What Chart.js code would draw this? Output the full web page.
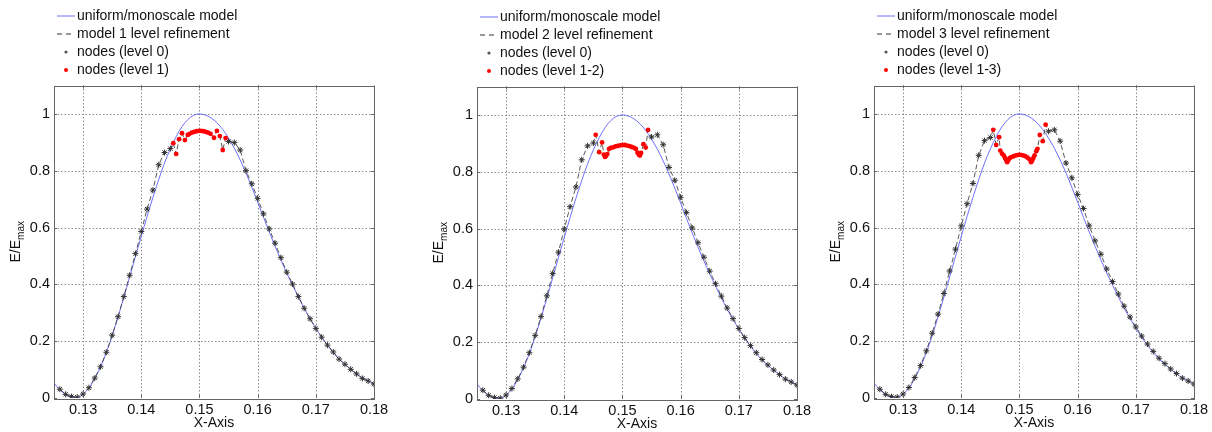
<!DOCTYPE html>
<html>
<head>
<meta charset="utf-8">
<script src="https://cdn.jsdelivr.net/npm/chart.js@4/dist/chart.umd.min.js"></script>
<style>
body{margin:0;background:#fff;width:1212px;height:432px;overflow:hidden;position:relative}
.panel{position:absolute;top:0;width:398px;height:432px}
</style>
</head>
<body>
<div class="panel" style="left:0px"><canvas id="c1"></canvas></div>
<div class="panel" style="left:423px;top:1px"><canvas id="c2"></canvas></div>
<div class="panel" style="left:820px"><canvas id="c3"></canvas></div>
<script>
// ticks
const xTicks = [0.13, 0.14, 0.15, 0.16, 0.17, 0.18];
const yTicks = [0, 0.2, 0.4, 0.6, 0.8, 1];

// uniform / monoscale model (same in all three panels)
const uniformX = [0.125,0.1255,0.126,0.1265,0.127,0.1275,0.128,0.1285,0.129,0.1295,0.130,
  0.131,0.132,0.133,0.134,0.135,0.136,0.137,0.138,0.139,0.140,0.141,0.142,0.143,0.144,0.145,
  0.146,0.147,0.148,0.149,0.150,0.151,0.152,0.153,0.154,0.155,0.156,0.157,0.158,0.159,0.160,
  0.161,0.162,0.163,0.164,0.165,0.166,0.167,0.168,0.169,0.170,0.171,0.172,0.173,0.174,0.175,
  0.176,0.177,0.178,0.179,0.180];
const uniformY = [0.054,0.040,0.029,0.020,0.012,0.006,0.003,0.001,0.002,0.006,0.013,
  0.035,0.068,0.110,0.160,0.220,0.285,0.354,0.426,0.498,0.569,0.639,0.706,0.769,0.827,0.877,
  0.920,0.955,0.980,0.995,1.000,0.996,0.986,0.969,0.945,0.915,0.879,0.838,0.792,0.742,0.690,
  0.636,0.584,0.534,0.486,0.440,0.397,0.356,0.316,0.280,0.246,0.214,0.186,0.160,0.137,0.118,
  0.101,0.085,0.071,0.060,0.050];

// level 0 nodes
const level0X = [0.126,0.127,0.128,0.129,0.130,0.131,0.132,0.133,0.134,0.135,0.136,0.137,0.138,
  0.139,0.140,0.141,0.142,0.143,0.144,0.145,
  0.155,0.156,0.157,0.158,0.159,0.160,0.161,0.162,0.163,0.164,0.165,0.166,0.167,0.168,0.169,
  0.170,0.171,0.172,0.173,0.174,0.175,0.176,0.177,0.178,0.179,0.180];
const level0Y1 = [0.031,0.013,0.005,0.003,0.014,0.036,0.070,0.110,0.161,0.221,0.286,0.357,0.432,
  0.508,0.586,0.665,0.732,0.821,0.864,0.878,
  0.903,0.899,0.873,0.800,0.754,0.703,0.648,0.595,0.545,0.494,0.443,0.401,0.357,0.316,0.279,
  0.245,0.214,0.186,0.162,0.137,0.119,0.101,0.085,0.069,0.060,0.049];
const level0Y2 = [0.031,0.013,0.005,0.003,0.014,0.037,0.071,0.112,0.163,0.224,0.290,0.363,0.442,
  0.517,0.599,0.677,0.746,0.842,0.891,0.901,
  0.922,0.930,0.895,0.815,0.770,0.710,0.656,0.602,0.550,0.499,0.450,0.406,0.362,0.320,0.283,
  0.248,0.216,0.188,0.163,0.139,0.120,0.102,0.086,0.070,0.060,0.049];
const level0Y3 = [0.031,0.013,0.005,0.003,0.014,0.037,0.072,0.114,0.166,0.228,0.295,0.368,0.447,
  0.524,0.606,0.684,0.755,0.854,0.906,0.917,
  0.939,0.944,0.904,0.827,0.775,0.716,0.667,0.606,0.553,0.506,0.454,0.410,0.366,0.323,0.285,
  0.250,0.218,0.190,0.164,0.140,0.121,0.102,0.086,0.070,0.060,0.049];

// refined nodes [x, y]
const refined1 = [[0.1455,0.897],[0.1460,0.859],[0.1465,0.911],[0.1470,0.932],[0.1475,0.908],
  [0.1480,0.926],[0.1483,0.930],[0.1487,0.934],[0.1491,0.937],[0.1495,0.939],[0.1499,0.940],
  [0.1503,0.940],[0.1507,0.939],[0.1511,0.937],[0.1515,0.934],[0.1519,0.930],[0.1525,0.916],
  [0.1530,0.940],[0.1535,0.922],[0.1540,0.873],[0.1545,0.915]];
const refined2 = [[0.1454,0.930],[0.1460,0.869],[0.1465,0.903],[0.1468,0.860],[0.1470,0.852],
  [0.1472,0.856],[0.1474,0.862],[0.1477,0.880],[0.1480,0.884],[0.1484,0.886],[0.1488,0.889],
  [0.1492,0.891],[0.1496,0.893],[0.1500,0.894],[0.1504,0.894],[0.1508,0.892],[0.1512,0.890],
  [0.1516,0.887],[0.1520,0.884],[0.1523,0.880],[0.1526,0.867],[0.1528,0.860],[0.1530,0.857],
  [0.1532,0.866],[0.1536,0.897],[0.1540,0.885],[0.1544,0.947]];
const refined3 = [[0.1455,0.944],[0.1460,0.891],[0.1465,0.918],[0.1467,0.871],[0.1470,0.860],
  [0.1473,0.854],[0.1475,0.845],[0.1477,0.838],[0.1479,0.830],[0.1481,0.838],[0.1483,0.844],
  [0.1486,0.848],[0.1490,0.851],[0.1494,0.854],[0.1498,0.856],[0.1502,0.856],[0.1506,0.854],
  [0.1510,0.851],[0.1514,0.846],[0.1517,0.840],[0.1520,0.830],[0.1522,0.836],[0.1524,0.845],
  [0.1526,0.854],[0.1529,0.869],[0.1531,0.877],[0.1535,0.926],[0.1540,0.904],[0.1545,0.962]];

const FONT = '"Liberation Sans", Arial, sans-serif';

// grid, box, inner ticks, legend and y title, drawn like the matlab figure
const matlabLook = {
  id: 'matlabLook',
  beforeDatasetsDraw(chart) {
    const {ctx, chartArea: a, scales: {x, y}} = chart;
    ctx.save();
    ctx.strokeStyle = '#8a8a8a';
    ctx.lineWidth = 1;
    ctx.setLineDash([1.5, 2]);
    xTicks.forEach(v => {
      const px = Math.round(x.getPixelForValue(v)) + 0.5;
      if (px > a.right - 1) return;
      ctx.beginPath(); ctx.moveTo(px, a.top); ctx.lineTo(px, a.bottom); ctx.stroke();
    });
    yTicks.forEach(v => {
      const py = Math.round(y.getPixelForValue(v)) + 0.5;
      if (py > a.bottom - 1) return;
      ctx.beginPath(); ctx.moveTo(a.left, py); ctx.lineTo(a.right, py); ctx.stroke();
    });
    ctx.restore();
  },
  afterDraw(chart, args, opts) {
    const {ctx, chartArea: a, scales: {x, y}} = chart;
    ctx.save();
    // box
    ctx.strokeStyle = '#666';
    ctx.lineWidth = 1;
    ctx.strokeRect(Math.round(a.left) + 0.5, Math.round(a.top) + 0.5,
      Math.round(a.right - a.left), Math.round(a.bottom - a.top));
    // inward ticks
    ctx.beginPath();
    xTicks.forEach(v => {
      const px = Math.round(x.getPixelForValue(v)) + 0.5;
      ctx.moveTo(px, a.bottom); ctx.lineTo(px, a.bottom - 3);
      ctx.moveTo(px, a.top); ctx.lineTo(px, a.top + 3);
    });
    yTicks.forEach(v => {
      const py = Math.round(y.getPixelForValue(v)) + 0.5;
      ctx.moveTo(a.left, py); ctx.lineTo(a.left + 3, py);
      ctx.moveTo(a.right, py); ctx.lineTo(a.right - 3, py);
    });
    ctx.stroke();

    // legend
    ctx.font = '14px ' + FONT;
    ctx.textBaseline = 'middle';
    ctx.fillStyle = '#111';
    const lx = a.left;
    opts.labels.forEach((t, i) => {
      const ly = 16 + i * 18;
      if (i === 0) {
        ctx.strokeStyle = '#7070ff';
        ctx.setLineDash([]);
        ctx.beginPath(); ctx.moveTo(lx + 3, ly); ctx.lineTo(lx + 21, ly); ctx.stroke();
      } else if (i === 1) {
        ctx.strokeStyle = '#333';
        ctx.setLineDash([5, 4]);
        ctx.beginPath(); ctx.moveTo(lx + 3, ly); ctx.lineTo(lx + 21, ly); ctx.stroke();
        ctx.setLineDash([]);
      } else {
        ctx.fillStyle = i === 2 ? '#555' : '#ff0000';
        ctx.beginPath(); ctx.arc(lx + 12, ly, i === 2 ? 1.6 : 2, 0, Math.PI * 2); ctx.fill();
        ctx.fillStyle = '#111';
      }
      ctx.fillText(t, lx + 23, ly);
    });

    // y title E/E_max
    const cy = (a.top + a.bottom) / 2;
    ctx.translate(20, cy);
    ctx.rotate(-Math.PI / 2);
    ctx.font = '14px ' + FONT;
    const w1 = ctx.measureText('E/E').width;
    ctx.font = '10px ' + FONT;
    const w2 = ctx.measureText('max').width;
    const sx = -(w1 + w2) / 2;
    ctx.textBaseline = 'alphabetic';
    ctx.textAlign = 'left';
    ctx.font = '14px ' + FONT;
    ctx.fillText('E/E', sx, 0);
    ctx.font = '10px ' + FONT;
    ctx.fillText('max', sx + w1, 4);
    ctx.restore();
  }
};

function pairs(xs, ys) {
  return xs.map((v, i) => ({x: v, y: ys[i]}));
}

function makePanel(id, level0Y, refined, modelLabel, refinedLabel) {
  const nodes0 = pairs(level0X, level0Y);
  const nodes1 = refined.map(p => ({x: p[0], y: p[1]}));
  const model = nodes0.concat(nodes1).sort((a, b) => a.x - b.x);
  new Chart(document.getElementById(id), {
    type: 'scatter',
    data: {
      datasets: [
        {label: refinedLabel, data: nodes1, pointStyle: 'circle', pointRadius: 2.4,
          backgroundColor: '#ff0000', borderColor: '#ff0000', borderWidth: 0},
        {label: 'nodes (level 0)', data: nodes0, pointStyle: 'star', pointRadius: 3,
          borderColor: '#333', backgroundColor: '#333', borderWidth: 1},
        {label: modelLabel, data: model, showLine: true, pointRadius: 0,
          borderColor: '#444', borderWidth: 0.9, borderDash: [5, 3], tension: 0},
        {label: 'uniform/monoscale model', data: pairs(uniformX, uniformY), showLine: true,
          pointRadius: 0, borderColor: '#7070ff', borderWidth: 1,
          cubicInterpolationMode: 'monotone'}
      ]
    },
    options: {
      responsive: true,
      maintainAspectRatio: false,
      animation: false,
      layout: {padding: {top: 85.5, right: 24, left: 0, bottom: 0}},
      plugins: {
        legend: {display: false},
        tooltip: {enabled: false},
        matlabLook: {labels: ['uniform/monoscale model', modelLabel, 'nodes (level 0)', refinedLabel]}
      },
      scales: {
        x: {
          type: 'linear', min: 0.125, max: 0.18,
          grid: {display: false, drawTicks: false}, border: {display: false},
          afterBuildTicks: s => { s.ticks = xTicks.map(v => ({value: v})); },
          afterFit: s => { s.height = 34; },
          ticks: {color: '#111', padding: 3, font: {size: 14.5, family: FONT},
            callback: v => v.toFixed(2), autoSkip: false, maxRotation: 0},
          title: {display: true, text: 'X-Axis', color: '#111', padding: 0,
            font: {size: 14, family: FONT}}
        },
        y: {
          type: 'linear', min: 0, max: 1.1,
          grid: {display: false, drawTicks: false}, border: {display: false},
          afterBuildTicks: s => { s.ticks = yTicks.map(v => ({value: v})); },
          afterFit: s => { s.width = 54; },
          ticks: {color: '#111', padding: 4, font: {size: 14.5, family: FONT},
            callback: v => String(Math.round(v * 10) / 10)}
        }
      }
    },
    plugins: [matlabLook]
  });
}

makePanel('c1', level0Y1, refined1, 'model 1 level refinement', 'nodes (level 1)');
makePanel('c2', level0Y2, refined2, 'model 2 level refinement', 'nodes (level 1-2)');
makePanel('c3', level0Y3, refined3, 'model 3 level refinement', 'nodes (level 1-3)');
</script>
</body>
</html>
